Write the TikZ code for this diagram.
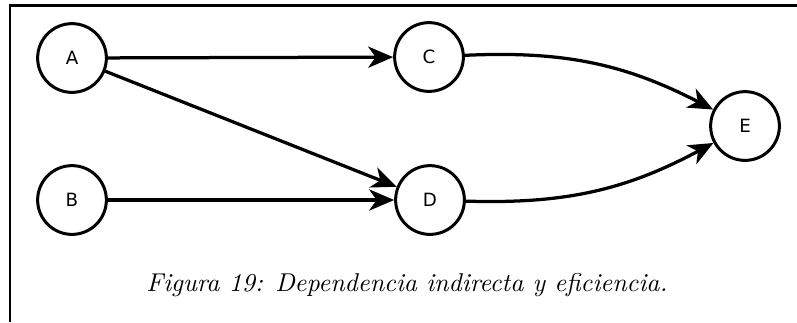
\documentclass[tikz,border=0pt]{standalone}
\usepackage{fontspec}
\newfontfamily\nodefont{DejaVu Sans}
\usetikzlibrary{arrows.meta}

\tikzset{
    var/.style={circle, draw, line width=1.2pt, inner sep=0pt, minimum size=27.5pt, font=\nodefont\fontsize{7.3}{9}\selectfont},
    dep/.style={line width=1.3pt, -{Stealth[length=10pt,width=8.5pt,inset=3pt]}}
}

\begin{document}
\begin{tikzpicture}[x=0.4pt, y=-0.4pt]
    \useasboundingbox (0,0) rectangle (797,322);

    % frame
    \draw[line width=0.9pt] (10,322) -- (10,5.5) -- (797,5.5);

    % variables
    \node[var] (a) at (72,58) {A};
    \node[var] (b) at (72,200) {B};
    \node[var] (c) at (429,57) {C};
    \node[var] (d) at (430,200) {D};
    \node[var] (e) at (745,126) {E};

    % dependencies
    \draw[dep] (a) -- (c);
    \draw[dep] (a) -- (d);
    \draw[dep] (b) -- (d);
    \draw[dep] (c) to[bend left=15] (e);
    \draw[dep] (d) to[bend right=15] (e);

    \node[font=\fontsize{10.3}{12}\selectfont] (caption) at (407,285) {\itshape Figura 19: Dependencia indirecta y eficiencia.};
\end{tikzpicture}
\end{document}
